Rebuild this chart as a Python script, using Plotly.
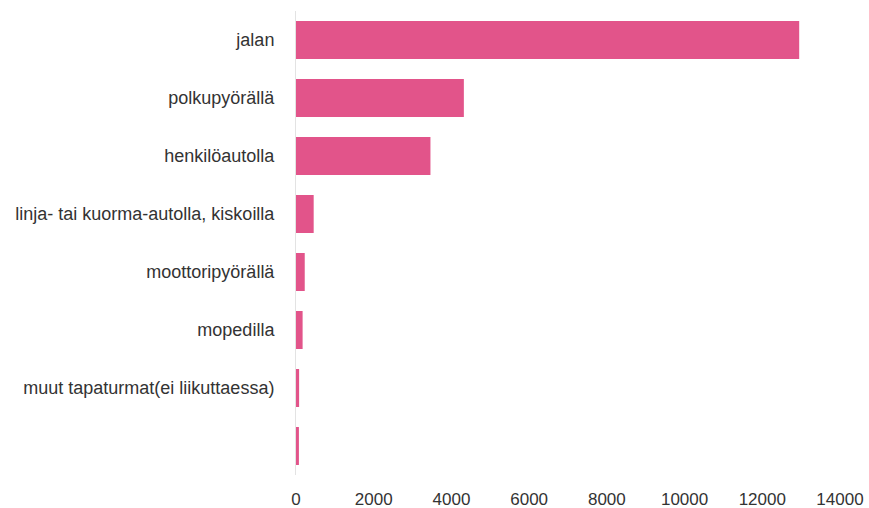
import plotly.graph_objects as go

categories = ["jalan", "polkupyörällä", "henkilöautolla", "linja- tai kuorma-autolla, kiskoilla",
              "moottoripyörällä", "mopedilla", "muut tapaturmat(ei liikuttaessa)", " "]
values = [12950, 4320, 3460, 455, 225, 170, 80, 75]
x_ticks = [0, 2000, 4000, 6000, 8000, 10000, 12000, 14000]
x_tick_text = ["0", "2000", "4000", "6000", "8000", "10000", "12000", "14000"]

fig = go.Figure(go.Bar(
    y=categories, x=values, orientation="h",
    marker=dict(color="#e2548a", line=dict(width=0)),
))

fig.update_layout(
    width=869, height=508,
    margin=dict(l=296, r=29, t=11, b=33),
    paper_bgcolor="white", plot_bgcolor="white",
    bargap=0.345,
    showlegend=False,
    font=dict(family="Liberation Sans, Arial, sans-serif", size=18, color="#333"),
)
fig.update_xaxes(range=[0, 14000], tickvals=x_ticks, ticktext=x_tick_text, showgrid=False,
                 zeroline=False, showline=False, ticks="", ticklabelstandoff=12,
                 tickfont=dict(size=17), ticklabeloverflow="allow", automargin=False)
fig.update_yaxes(autorange="reversed", showgrid=False, showline=True, linecolor="#e3e3e3",
                 linewidth=1, ticks="", ticklabelstandoff=17, automargin=False)

fig.write_html(
    "out.html",
    config={"displayModeBar": False},
    post_script="document.body.style.margin='0';document.body.style.overflow='hidden';",
)
